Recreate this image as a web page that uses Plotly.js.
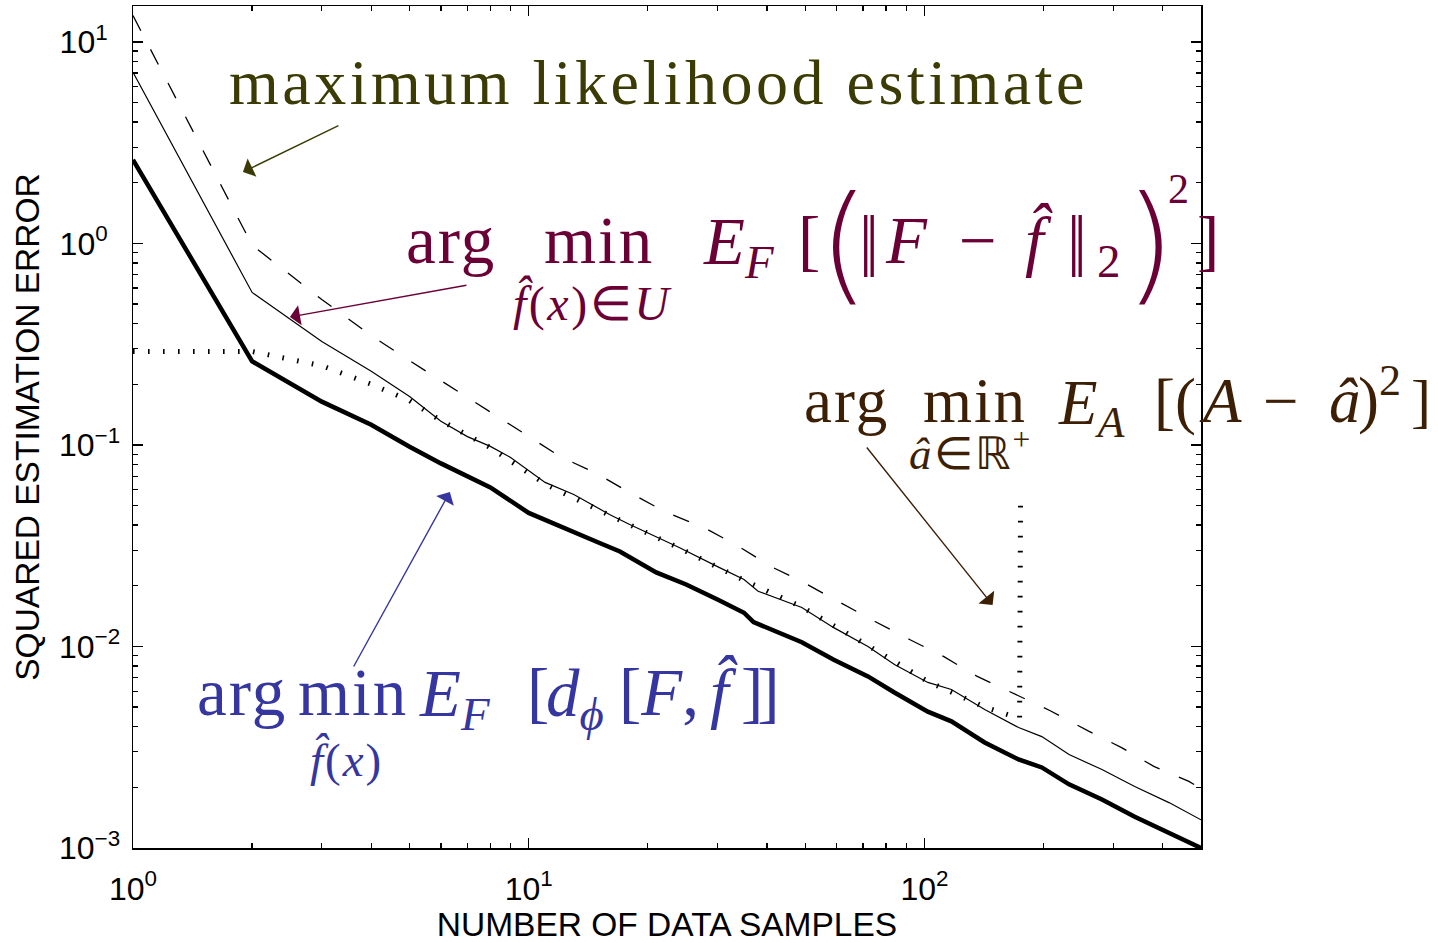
<!DOCTYPE html>
<html><head><meta charset="utf-8">
<script src="https://cdn.plot.ly/plotly-3.0.1.min.js"></script>
<style>html,body{margin:0;padding:0;background:#fff}</style>
</head><body><div id="chart" style="width:1438px;height:943px"></div>
<script>
// ---- data ----
const nThick = [1,2,3,4,5,6,8,10,15,17,21,25,30,35,37,49,59,72,84,102,117,142,173,198,232,281,340,415,500];
const eThick = [2.6,0.26,0.164,0.126,0.098,0.081,0.0615,0.046,0.0328,0.0296,0.0233,0.0203,0.0171,0.0147,0.0132,0.0105,0.0086,0.0071,0.00591,0.00475,0.00425,0.00334,0.00275,0.00251,0.00207,0.00174,0.00143,0.00119,0.001];

const nThin = [1,2,3,4,5,6,7,8,9,11,13,16,18,24,30,35,38,49,59,72,84,102,117,142,173,198,232,281,340,415,500];
const eThin = [7.06,0.571,0.326,0.232,0.174,0.131,0.110,0.0984,0.0867,0.0652,0.0568,0.0452,0.0403,0.031,0.0249,0.0215,0.0188,0.0156,0.0124,0.01,0.00814,0.00663,0.00612,0.00487,0.00396,0.00357,0.00291,0.00245,0.00202,0.00168,0.00138];

const nDash = [1,2,3,4,5,6,8,10,12,15,18,22,28,34,41,49,75,92,112,136,166,208,260,315,380,466,500];
const eDash = [13.5,0.98,0.527,0.349,0.262,0.209,0.145,0.110,0.0877,0.0714,0.058,0.0468,0.0385,0.0313,0.0249,0.021,0.0133,0.0108,0.0089,0.0071,0.0059,0.0048,0.0038,0.00315,0.00254,0.00214,0.00197];

const nDot = [1,2,3,4,5,6,8,11,16,24,35,49,72,102,142,174,175];
const eDot = [0.291,0.291,0.247,0.200,0.166,0.132,0.097,0.064,0.0448,0.0308,0.0213,0.0157,0.0101,0.0067,0.0050,0.0044,0.058];

const FS = '\u2007';
const xTickVals = [1,10,100];
const xTickText = ['10<sup>0</sup>','10<sup>1</sup>','10<sup>2</sup>'];
const yTickVals = [0.001,0.01,0.1,1,10];
const yTickText = ['10<sup>−3</sup>','10<sup>−2</sup>','10<sup>−1</sup>','10<sup>0'+FS+'</sup>','10<sup>1'+FS+'</sup>'];

// minor tick positions
function minorTicks(lo, hi, max){ const v=[]; for(let p=lo;p<=hi;p++){ for(let k=2;k<=9;k++){ const t=k*Math.pow(10,p); if(t<=max) v.push(t);} } return v; }
const xMinor = minorTicks(0,2,500);
const yMinor = minorTicks(-3,1,15);

// ---- layout geometry ----
const L=133, R=1201.5, T=6, B=848;
const px = x => (x-L)/(R-L);
const py = y => (B-y)/(B-T);

const SERIF = 'Liberation Serif, Times New Roman, serif';
function txt(text, x, yc, size, color, fam, weight){
  const f = {family:fam||SERIF, size:size, color:color};
  if(weight) f.weight = weight;
  return {xref:'paper', yref:'paper', x:px(x), y:py(yc), xanchor:'left', yanchor:'middle',
    text:text, showarrow:false, borderpad:0, font:f};
}
function arr(hx, hy, tx, ty, color){
  return {xref:'paper', yref:'paper', x:px(hx), y:py(hy), ax:tx-hx, ay:ty-hy, axref:'pixel', ayref:'pixel',
    text:'', showarrow:true, arrowhead:1, arrowsize:2.4, arrowwidth:1.4, arrowcolor:color, standoff:0, startstandoff:0};
}
const OL='#3b3b05', MA='#6b0036', BR='#3d1f06', BL='#3636a0';
const fh = 'f\u0302';
const PAREN = 'DejaVu Sans, sans-serif';
const BARS = '<span style="letter-spacing:-7px">||</span>';
const ann = [
  txt('<span style="letter-spacing:3.5px">maximum likelihood estimate</span>', 228, 83, 64, OL),
  arr(243,172,340,125,OL),

  txt('<span style="letter-spacing:2px">arg</span>', 405, 240, 67, MA),
  txt('<span style="letter-spacing:2px">min</span>', 543, 240, 67, MA),
  txt('<i>E</i><sub><i>F</i></sub>', 702, 246, 67, MA),
  txt('[', 797, 240, 67, MA),
  txt('(', 818, 243, 128, MA, PAREN, 200),
  txt(BARS, 858, 240, 67, MA),
  txt('<i>F</i>', 884, 240, 67, MA),
  txt('−', 958, 240, 67, MA),
  txt('<i>'+fh+'</i>', 1024, 240, 67, MA),
  txt(BARS, 1066, 240, 67, MA),
  txt('2', 1096, 261, 47, MA),
  txt(')', 1124, 243, 128, MA, PAREN, 200),
  txt('2', 1167, 189, 42, MA),
  txt(']', 1196, 240, 67, MA),
  txt('<span style="letter-spacing:2.5px"><i>'+fh+'</i>(<i>x</i>)∈<i>U</i></span>', 512, 303, 48, MA),
  arr(290,317,468,285,MA),

  txt('<span style="letter-spacing:2px">arg</span>', 803, 401, 63, BR),
  txt('<span style="letter-spacing:2px">min</span>', 922, 401, 63, BR),
  txt('<i>E</i><sub><i>A</i></sub>', 1057, 407, 63, BR),
  txt('[(', 1153, 401, 63, BR),
  txt('<i>A</i>', 1198, 401, 63, BR),
  txt('−', 1263, 401, 63, BR),
  txt('<i>â</i>', 1329, 401, 63, BR),
  txt(')<sup>2</sup>', 1358, 395, 63, BR),
  txt(']', 1411, 401, 60, BR),
  txt('<span style="letter-spacing:2px"><i>â</i>∈ℝ<sup>+</sup></span>', 908, 450, 45, BR),
  arr(993,605,866,446,BR),

  txt('<span style="letter-spacing:2px">arg</span>', 196, 692, 67, BL),
  txt('<span style="letter-spacing:2px">min</span>', 297, 692, 67, BL),
  txt('<i>E</i><sub><i>F</i></sub>', 418, 698, 67, BL),
  txt('[', 526, 692, 67, BL),
  txt('<i>d</i><sub><i>ϕ</i></sub>', 545, 698, 67, BL),
  txt('[<i>F</i>,', 618, 692, 67, BL),
  txt('<i>'+fh+'</i>', 709, 692, 67, BL),
  txt('<span style="letter-spacing:-6px">]]</span>', 740, 692, 67, BL),
  txt('<span style="letter-spacing:2px"><i>'+fh+'</i>(<i>x</i>)</span>', 309, 759, 47, BL),
  arr(450,492,353,668,BL)
];

const traces = [
  {x:nDash, y:eDash, type:'scatter', mode:'lines', line:{color:'black', width:1.3, dash:'17px,21px'}, hoverinfo:'skip'},
  {x:nDot, y:eDot, type:'scatter', mode:'lines', line:{color:'black', width:5, dash:'1.6px,13.4px'}, hoverinfo:'skip'},
  {x:nThin, y:eThin, type:'scatter', mode:'lines', line:{color:'black', width:1.2}, hoverinfo:'skip'},
  {x:nThick, y:eThick, type:'scatter', mode:'lines', line:{color:'black', width:4.5}, hoverinfo:'skip'}
];

const SANS = 'Liberation Sans, Arial, sans-serif';
const axisCommon = {
  showline:true, linecolor:'black', linewidth:1.5, mirror:'allticks',
  ticks:'inside', ticklen:10, tickwidth:1.3, tickcolor:'black',
  showgrid:false, zeroline:false, tickmode:'array',
  tickfont:{family:SANS, size:32, color:'black'}
};
const layout = {
  width:1438, height:943, paper_bgcolor:'white', plot_bgcolor:'white',
  margin:{l:L, r:1438-R, t:T, b:943-B, autoexpand:false},
  showlegend:false,
  xaxis: Object.assign({}, axisCommon, {
    type:'log', range:[0, Math.log10(500)], tickvals:xTickVals, ticktext:xTickText,
    ticklabelstandoff:12,
    minor:{ticks:'inside', ticklen:5, tickwidth:1.3, tickcolor:'black', tickmode:'array', tickvals:xMinor, showgrid:false},
    title:{text:'NUMBER OF DATA SAMPLES', font:{family:SANS, size:33.5, color:'black'}, standoff:9}
  }),
  yaxis: Object.assign({}, axisCommon, {
    type:'log', range:[-3, 1.178], tickvals:yTickVals, ticktext:yTickText,
    ticklabelstandoff:5,
    minor:{ticks:'inside', ticklen:5, tickwidth:1.3, tickcolor:'black', tickmode:'array', tickvals:yMinor, showgrid:false},
    title:{text:'SQUARED ESTIMATION ERROR', font:{family:SANS, size:33.5, color:'black'}, standoff:9}
  }),
  annotations: ann
};
Plotly.newPlot('chart', traces, layout, {staticPlot:true, displayModeBar:false});
</script></body></html>
